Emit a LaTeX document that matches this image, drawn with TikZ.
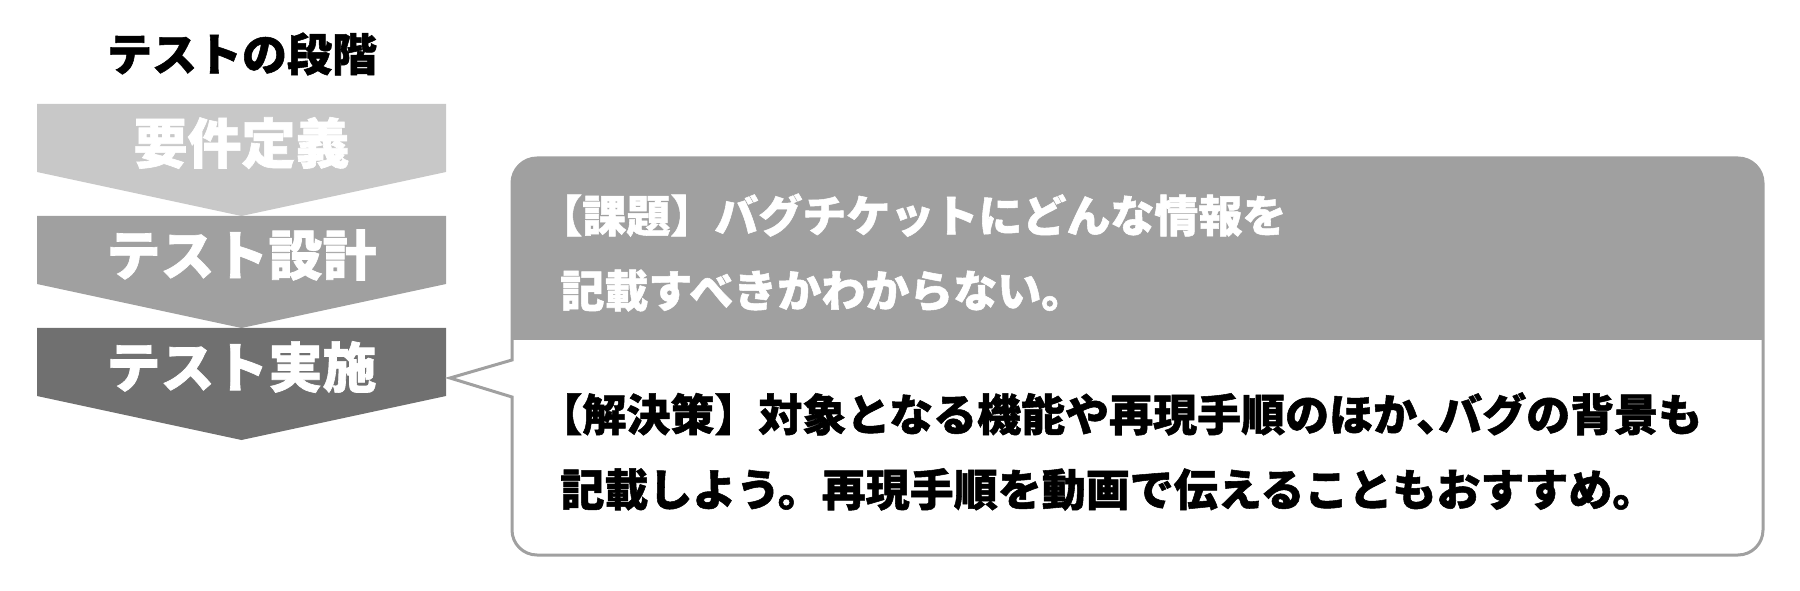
\documentclass[tikz,border=0pt]{standalone}
\usepackage{fontspec}
\setmainfont{Noto Sans CJK JP}[BoldFeatures={FakeBold=1.2}]
\definecolor{stageA}{HTML}{C8C8C8}
\definecolor{stageB}{HTML}{A0A0A0}
\definecolor{stageC}{HTML}{707070}
\definecolor{callgray}{HTML}{A0A0A0}
\tikzset{
  stagelabel/.style={text=white, inner sep=0pt, font=\fontsize{27}{30}\selectfont\bfseries},
  calltext/.style={anchor=west, align=left, inner sep=0pt, font=\fontsize{22}{37.5}\selectfont\bfseries},
}
\begin{document}
\begin{tikzpicture}[x=0.5pt, y=0.5pt]
    \useasboundingbox (0,0) rectangle (1800,590);
    % Draw title
    \node[inner sep=0pt, font=\fontsize{22.5}{26}\selectfont\bfseries] (title) at (242,536) {テストの段階};
    % Draw stages
    \foreach \i/\top/\col/\txt in {1/486/stageA/要件定義, 2/374/stageB/テスト設計, 3/262/stageC/テスト実施} {
        \fill[\col] (37,\top) -- (446,\top) -- (446,\top-68) -- (241.5,\top-112) -- (37,\top-68) -- cycle;
        \node[stagelabel] (stage\i) at (241.5,\top-39) {\txt};
    }
    % Draw callout header
    \begin{scope}
        \clip[rounded corners=12.5pt] (512,35) rectangle (1763,432);
        \fill[callgray] (512,250) rectangle (1763,432);
    \end{scope}
    % Draw callout frame with pointer
    \coordinate (tip) at (450,212);
    \draw[callgray, line width=1.5pt] (tip) -- (512,230) -- (512,407)
        arc[start angle=180, end angle=90, radius=12.5pt] -- (1738,432)
        arc[start angle=90, end angle=0, radius=12.5pt] -- (1763,60)
        arc[start angle=0, end angle=-90, radius=12.5pt] -- (537,35)
        arc[start angle=270, end angle=180, radius=12.5pt] -- (512,193) -- cycle;
    % Draw callout texts
    \node[calltext, text=white] (issue) at (560,337.5) {\kern-.5em【課題】バグチケットにどんな情報を\\記載すべきかわからない。};
    \node[calltext] (fix) at (560,138.5) {\kern-.5em【解決策】対象となる機能や再現手順のほか、\kern-.5em バグの背景も\\記載しよう。再現手順を動画で伝えることもおすすめ。};
\end{tikzpicture}
\end{document}
